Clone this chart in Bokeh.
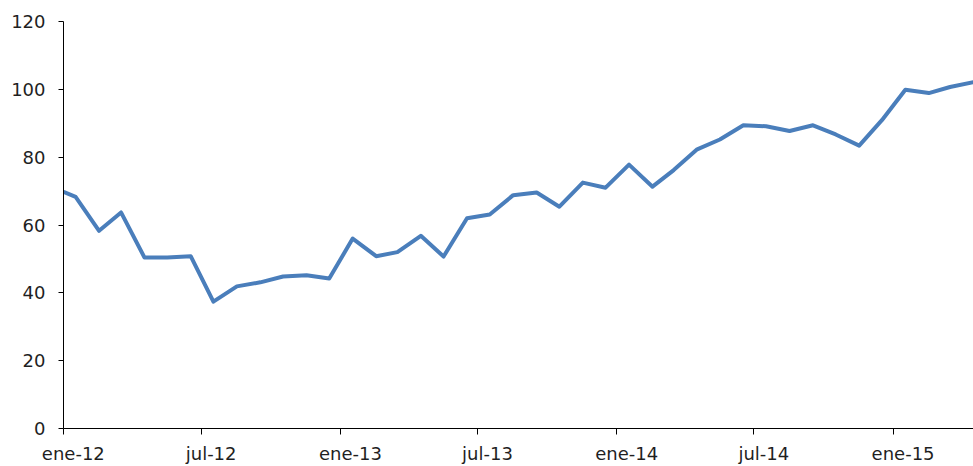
import pandas as pd
from bokeh.plotting import figure
from bokeh.models import Range1d, FixedTicker, DatetimeAxis, CustomJSTickFormatter
from bokeh.embed import file_html
from bokeh.resources import INLINE

dates = ["2012-01-01", "2012-01-17", "2012-02-17", "2012-03-17", "2012-04-17", "2012-05-17",
         "2012-06-17", "2012-07-17", "2012-08-17", "2012-09-17", "2012-10-17", "2012-11-17",
         "2012-12-17", "2013-01-17", "2013-02-17", "2013-03-17", "2013-04-17", "2013-05-17",
         "2013-06-17", "2013-07-17", "2013-08-17", "2013-09-17", "2013-10-17", "2013-11-17",
         "2013-12-17", "2014-01-17", "2014-02-17", "2014-03-17", "2014-04-17", "2014-05-17",
         "2014-06-17", "2014-07-17", "2014-08-17", "2014-09-17", "2014-10-17", "2014-11-17",
         "2014-12-17", "2015-01-17", "2015-02-17", "2015-03-17", "2015-04-17"]
values = [69.8, 68.3, 58.3, 63.7, 50.4, 50.4, 50.8, 37.4, 41.9, 43.1, 44.8, 45.2,
          44.2, 56.0, 50.8, 52.0, 56.8, 50.7, 62.0, 63.1, 68.8, 69.6, 65.4, 72.5,
          71.0, 77.8, 71.3, 76.2, 82.3, 85.2, 89.4, 89.1, 87.7, 89.4, 86.7, 83.4,
          90.9, 99.9, 98.9, 100.7, 102.1]
tick_dates = ["2012-01-01", "2012-07-01", "2013-01-01", "2013-07-01", "2014-01-01",
              "2014-07-01", "2015-01-01"]
tick_labels = ["ene-12", "jul-12", "ene-13", "jul-13", "ene-14", "jul-14", "ene-15"]
y_ticks = [0, 20, 40, 60, 80, 100, 120]

FONT = "DejaVu Sans"
TXT = "#1f1f1f"

x = pd.to_datetime(dates)
tx = pd.to_datetime(tick_dates)
tick_ms = [float(t.value // 10**6) for t in tx]
# labels sit slightly right of their tick marks (about half a month), as in the source chart
LABEL_SHIFT_MS = 13 * 24 * 3600 * 1000
label_ms = [t + LABEL_SHIFT_MS for t in tick_ms]

p = figure(width=973, height=466, x_axis_type="datetime",
           output_backend="svg", toolbar_location=None,
           x_range=Range1d(x[0], x[-1]), y_range=Range1d(0, 120),
           min_border_left=63, min_border_right=0, min_border_top=21, min_border_bottom=37)
p.outline_line_color = None
p.grid.visible = False
p.background_fill_color = "white"

p.line(x=x, y=values, line_color="#4A7EBB", line_width=4, line_join="round")

# y axis
p.yaxis.ticker = FixedTicker(ticks=y_ticks)
p.yaxis.minor_tick_line_color = None
p.yaxis.major_tick_in = 0
p.yaxis.major_tick_out = 5
p.yaxis.major_label_standoff = 13
p.yaxis.major_label_text_font = FONT
p.yaxis.major_label_text_font_size = "18px"
p.yaxis.major_label_text_color = TXT
p.yaxis.axis_line_color = "black"
p.yaxis.major_tick_line_color = "black"

# x axis: tick marks only
xa = p.xaxis[0]
xa.ticker = FixedTicker(ticks=tick_ms)
xa.minor_tick_line_color = None
xa.major_tick_in = 0
xa.major_tick_out = 6
xa.formatter = CustomJSTickFormatter(code="return ''")
xa.major_label_text_font_size = "0px"
xa.major_label_standoff = 0
xa.axis_line_color = "black"
xa.major_tick_line_color = "black"

# second axis carrying the labels
xl = DatetimeAxis(ticker=FixedTicker(ticks=label_ms),
                  formatter=CustomJSTickFormatter(args=dict(labels=tick_labels),
                                                  code="return labels[index]"))
xl.axis_line_color = None
xl.major_tick_line_color = None
xl.minor_tick_line_color = None
xl.major_tick_in = 0
xl.major_tick_out = 0
xl.major_label_standoff = 8
xl.major_label_text_font = FONT
xl.major_label_text_font_size = "18px"
xl.major_label_text_color = TXT
p.add_layout(xl, "below")

open("out.html", "w").write(file_html(p, INLINE))
